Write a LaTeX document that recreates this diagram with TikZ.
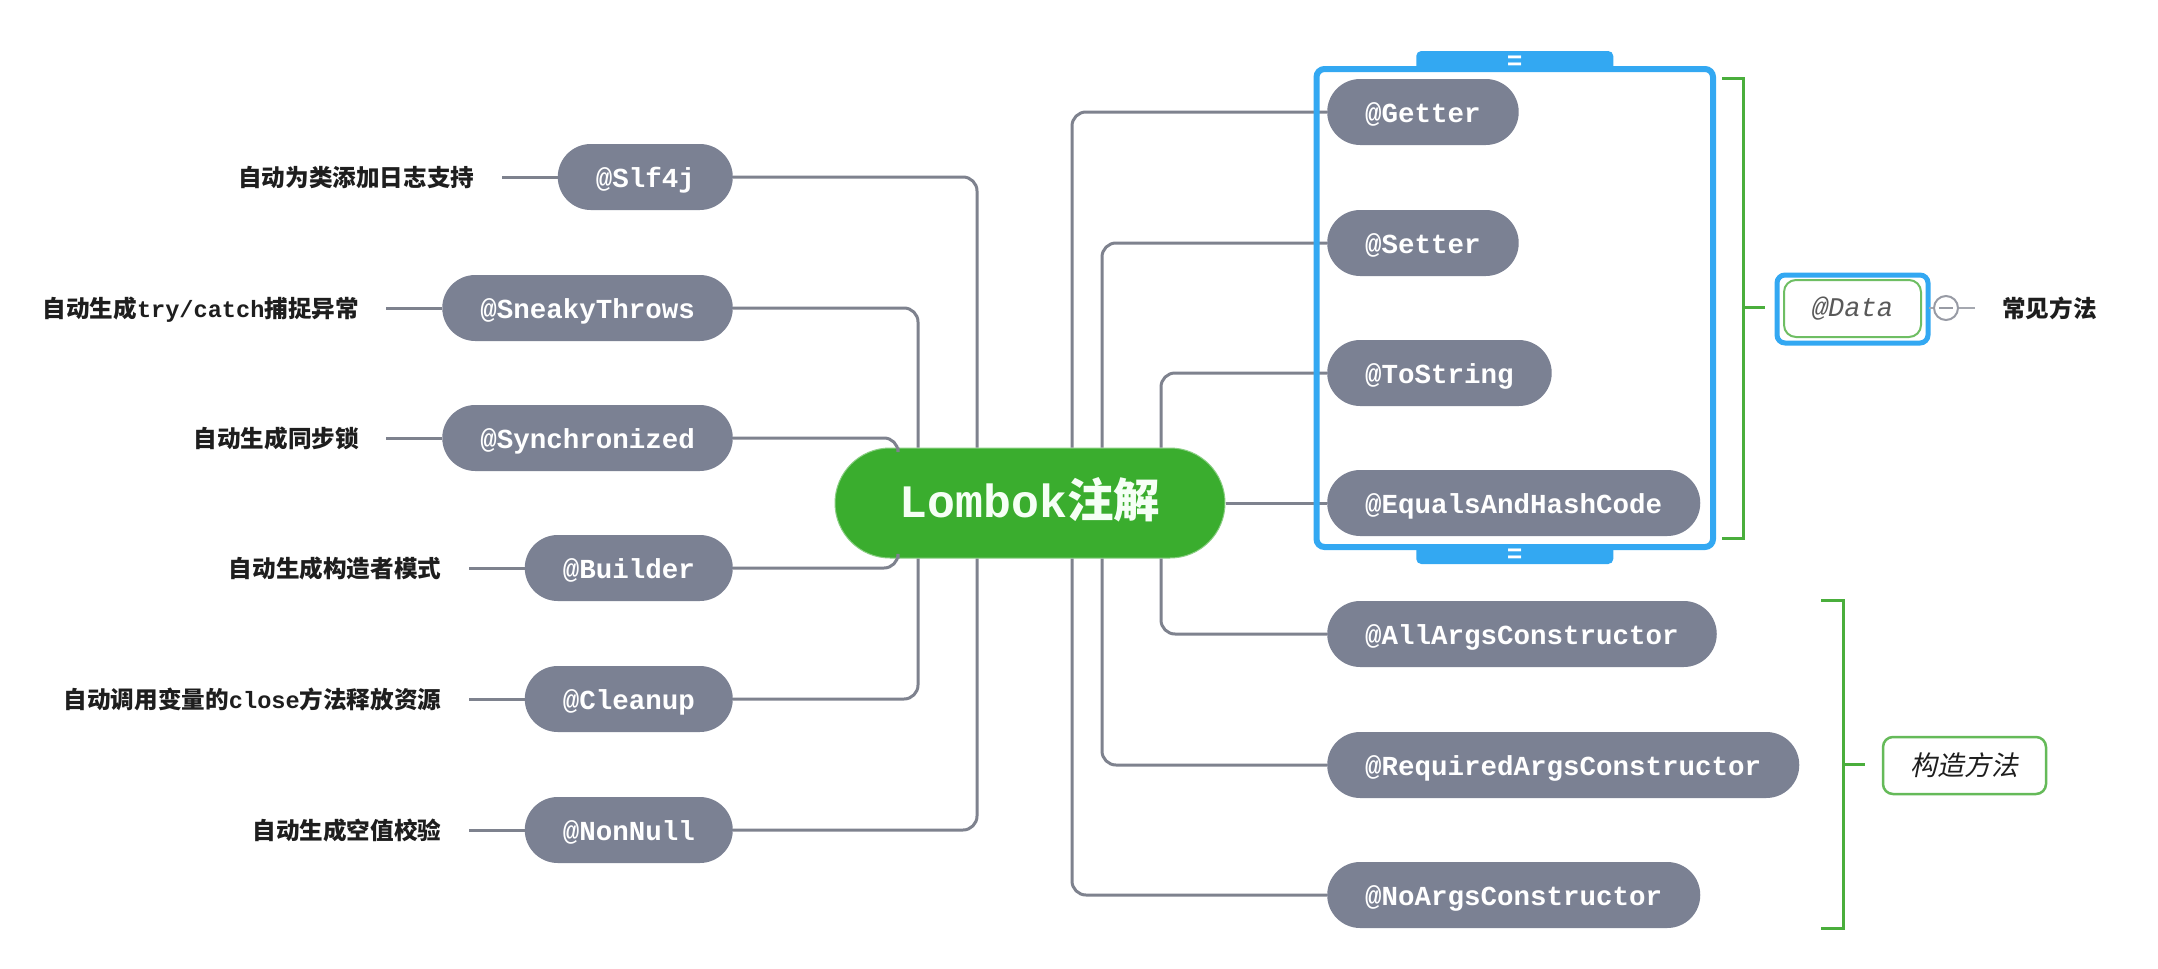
\documentclass[tikz,border=0pt]{standalone}
\usepackage{fontspec}
\newfontfamily\cjk{Noto Sans CJK SC}
\newfontfamily\cjkit[FakeSlant=0.2]{Noto Sans CJK SC}
\newfontfamily\mono{Liberation Mono}
\definecolor{pillgray}{HTML}{7B8193}
\definecolor{linegray}{HTML}{7E828E}
\definecolor{lomgreen}{HTML}{3AAD2E}
\definecolor{frameblue}{HTML}{33A8F2}
\definecolor{brkgreen}{HTML}{4AAE3C}
\definecolor{labtext}{HTML}{1E1E1E}
\newcommand\pillfont{\mono\bfseries\fontsize{27.5pt}{30pt}\selectfont}
\newcommand\labfont{\cjk\bfseries\fontsize{23.6pt}{26pt}\selectfont}
\newcommand\labmono{\mono\fontsize{23.6pt}{26pt}\selectfont}
\begin{document}
\begin{tikzpicture}[x=1pt,y=-1pt,
  pill/.style={fill=pillgray, text=white, rounded corners=33pt, minimum height=66pt,
    inner xsep=38pt, inner ysep=0pt, text height=24pt, text depth=4pt, font=\pillfont},
  lab/.style={text=labtext, inner sep=0pt, text height=21pt, text depth=3pt, font=\labfont},
  conn/.style={draw=linegray, line width=3pt, rounded corners=14pt},
  brk/.style={draw=brkgreen, line width=3pt},
  lombok/.style={fill=lomgreen, draw=lomgreen!60!white, line width=1pt, text={green!4!white},
    rounded corners=55pt, minimum width=390pt, minimum height=110pt, inner sep=0pt,
    text height=36pt, text depth=8pt},
  tab/.style={fill=frameblue, rounded corners=5pt, minimum width=197pt, minimum height=20pt,
    inner sep=0pt, text=white, text height=17pt, text depth=0pt,
    font=\mono\bfseries\fontsize{26pt}{26pt}\selectfont}
]
\useasboundingbox (0,0) rectangle (2158,969);
\fill[white] (0,0) rectangle (2158,969);

% central node
\node[lombok] (lom) at (1030,503) {{\mono\bfseries\fontsize{46.5pt}{50pt}\selectfont Lombok}{\cjk\bfseries\fontsize{46.5pt}{50pt}\selectfont 注解}};

% left pills
\node[pill, anchor=east] (slf) at (733,177) {@Slf4j};
\node[pill, anchor=east] (sneaky) at (733,308) {@SneakyThrows};
\node[pill, anchor=east] (sync) at (733,438) {@Synchronized};
\node[pill, anchor=east] (builder) at (733,568) {@Builder};
\node[pill, anchor=east] (cleanup) at (733,699) {@Cleanup};
\node[pill, anchor=east] (nonnull) at (733,830) {@NonNull};

% right pills
\node[pill, anchor=west] (getter) at (1327,112) {@Getter};
\node[pill, anchor=west] (setter) at (1327,243) {@Setter};
\node[pill, anchor=west] (tostr) at (1327,373) {@ToString};
\node[pill, anchor=west] (equals) at (1327,503) {@EqualsAndHashCode};
\node[pill, anchor=west] (allargs) at (1327,634) {@AllArgsConstructor};
\node[pill, anchor=west] (reqargs) at (1327,765) {@RequiredArgsConstructor};
\node[pill, anchor=west] (noargs) at (1327,895) {@NoArgsConstructor};

% label stubs and labels
\foreach \n in {slf,sneaky,sync,builder,cleanup,nonnull}{
  \coordinate (\n L) at ([xshift=-56pt]\n.west);
  \draw[conn] (\n.west) -- (\n L);
}
\node[lab, anchor=east] (slfT) at ([xshift=-27pt]slfL) {自动为类添加日志支持};
\node[lab, anchor=east] (sneakyT) at ([xshift=-27pt]sneakyL) {自动生成{\labmono try/catch}捕捉异常};
\node[lab, anchor=east] (syncT) at ([xshift=-27pt]syncL) {自动生成同步锁};
\node[lab, anchor=east] (builderT) at ([xshift=-27pt]builderL) {自动生成构造者模式};
\node[lab, anchor=east] (cleanupT) at ([xshift=-27pt]cleanupL) {自动调用变量的{\labmono close}方法释放资源};
\node[lab, anchor=east] (nonnullT) at ([xshift=-27pt]nonnullL) {自动生成空值校验};

% connector columns
\coordinate (xa) at (977,0);
\coordinate (xb) at (918,0);
\coordinate (xc) at (898,0);
\coordinate (xd) at (1072,0);
\coordinate (xe) at (1102,0);
\coordinate (xf) at (1161,0);

\draw[conn] (slf.east) -| (xa |- lom.north);
\draw[conn] (sneaky.east) -| (xb |- lom.north);
\draw[conn] (sync.east) -| (xc |- lom.north);
\draw[conn] (builder.east) -| (xc |- lom.south);
\draw[conn] (cleanup.east) -| (xb |- lom.south);
\draw[conn] (nonnull.east) -| (xa |- lom.south);

\draw[conn] (getter.west) -| (xd |- lom.north);
\draw[conn] (setter.west) -| (xe |- lom.north);
\draw[conn] (tostr.west) -| (xf |- lom.north);
\draw[conn] (lom.east) -- (equals.west);
\draw[conn] (allargs.west) -| (xf |- lom.south);
\draw[conn] (reqargs.west) -| (xe |- lom.south);
\draw[conn] (noargs.west) -| (xd |- lom.south);

% blue selection frame
\node[draw=frameblue, line width=6pt, rounded corners=8pt, minimum width=396.5pt,
  minimum height=478pt, inner sep=0pt] (grp) at (1514.75,308) {};
\node[tab] (tabT) at (1514.75,61) {=};
\node[tab] (tabB) at (1514.75,554) {=};

% bracket for @Data
\draw[brk] (1722,78) -- (1743,78) -- (1743,538) -- (1722,538);
\coordinate (brk1) at (1765,307);
\draw[brk] (1743,307) -- (brk1);

% @Data summary
\draw[frameblue, line width=5pt, rounded corners=8pt] (1777,275) rectangle (1928,343);
\node[draw=brkgreen!80!white, line width=2pt, rounded corners=12pt, minimum width=137pt,
  minimum height=57pt, inner sep=0pt, text={black!65},
  font=\mono\itshape\fontsize{27pt}{30pt}\selectfont, text height=19pt, text depth=4pt] (data) at (1852.5,308.5) {@Data};
\node[circle, draw=linegray!80!white, line width=2pt, minimum size=24pt, inner sep=0pt] (col) at (1946,308) {};
\draw[linegray!80!white, line width=2pt] ([xshift=-7pt]col.center) -- ([xshift=7pt]col.center);
\coordinate (dataR) at (1929,308);
\coordinate (colR) at (1975,308);
\draw[linegray!70!white, line width=2pt] (dataR) -- (col.west);
\draw[linegray!70!white, line width=2pt] (col.east) -- (colR);
\node[lab, anchor=west] (common) at (2002,308) {常见方法};

% bracket for constructors
\draw[brk] (1821,600) -- (1843,600) -- (1843,928) -- (1821,928);
\node[draw=brkgreen!85!white, line width=2.5pt, rounded corners=10pt, fill=white,
  minimum width=163pt, minimum height=57pt, inner sep=0pt, text=labtext,
  font=\cjkit\fontsize{27pt}{30pt}\selectfont, text height=24pt, text depth=4pt] (ctor) at (1964.5,765.5) {构造方法};
\coordinate (brk2) at (1865,764);
\draw[brk] (1843,764) -- (brk2);
\end{tikzpicture}
\end{document}
